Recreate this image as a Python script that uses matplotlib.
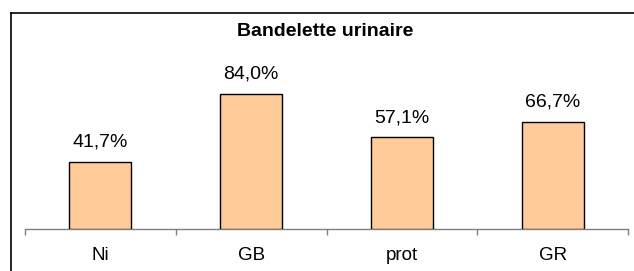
import matplotlib
matplotlib.use("Agg")
import matplotlib.pyplot as plt
from matplotlib.lines import Line2D

categories = ["Ni", "GB", "prot", "GR"]
values = [41.7, 84.0, 57.1, 66.7]
value_labels = ["41,7%", "84,0%", "57,1%", "66,7%"]
title = "Bandelette urinaire"

plt.rcParams['font.family'] = ['Liberation Sans', 'DejaVu Sans']

W, H = 634, 271
fig = plt.figure(figsize=(W / 100, H / 100), dpi=100)
fig.patch.set_facecolor("white")

# outer chart frame (left and top edges visible)
fig.add_artist(Line2D([10.5 / W, 10.5 / W], [1 - 13 / H, -0.1], color="black", lw=1.2,
                      transform=fig.transFigure))
fig.add_artist(Line2D([10.5 / W, 1.1], [1 - 13 / H, 1 - 13 / H], color="black", lw=1.2,
                      transform=fig.transFigure))

ax_left, ax_right = 25, 628
ax_bottom = 229
ymax = 100
px_per_unit = 135 / 84.0
ax_top = ax_bottom - ymax * px_per_unit
ax = fig.add_axes([ax_left / W, 1 - ax_bottom / H, (ax_right - ax_left) / W,
                   (ax_bottom - ax_top) / H])
ax.set_facecolor("none")

x = range(len(categories))
ax.bar(x, values, width=0.41, color="#FFCC99", edgecolor="black", linewidth=1.0, zorder=3)
for xi, v, lab in zip(x, values, value_labels):
    ax.annotate(lab, (xi, v), xytext=(0, 8), textcoords="offset points",
                ha="center", va="bottom", fontsize=14)

ax.set_xlim(-0.5, len(categories) - 0.5)
ax.set_ylim(0, ymax)
for s in ["top", "right", "left"]:
    ax.spines[s].set_visible(False)
ax.spines["bottom"].set_color("#808080")
ax.spines["bottom"].set_linewidth(1.0)
ax.set_yticks([])
ax.set_xticks(list(x))
ax.set_xticklabels(categories, fontsize=13.5)
ax.tick_params(axis="x", which="major", length=0, pad=13)
ax.set_xticks([i - 0.5 for i in range(len(categories) + 1)], minor=True)
ax.tick_params(axis="x", which="minor", length=4.5, color="#808080", width=1.0, direction="out")

fig.text(0.513, 1 - 31 / H, title, ha="center", va="center", fontsize=14, fontweight="bold")

fig.savefig("out.png", dpi=100, facecolor="white")
